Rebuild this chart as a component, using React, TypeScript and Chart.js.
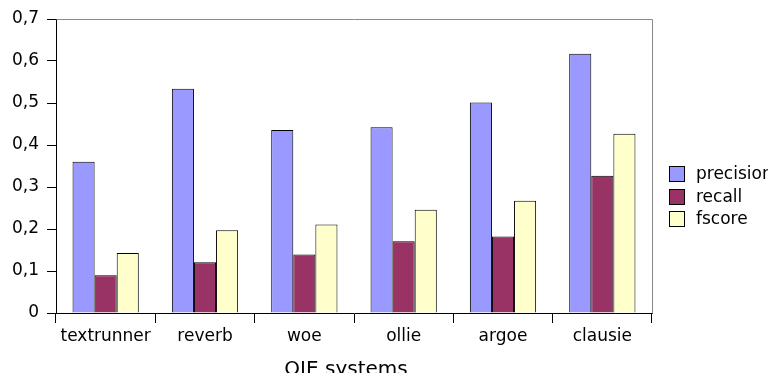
import React, { useEffect, useRef } from "react";
import { Chart, registerables } from "chart.js";

Chart.register(...registerables);

const categories = ["textrunner", "reverb", "woe", "ollie", "argoe", "clausie"];
const precision = [0.36, 0.534, 0.436, 0.442, 0.501, 0.617];
const recall = [0.09, 0.121, 0.139, 0.171, 0.182, 0.327];
const fscore = [0.143, 0.197, 0.211, 0.246, 0.267, 0.427];
const seriesNames = ["precision", "recall", "fscore"];
const seriesColors = ["#9999FF", "#993366", "#FFFFCC"];
const yTickLabels = ["0", "0,1", "0,2", "0,3", "0,4", "0,5", "0,6", "0,7"];
const xTitle = "OIE systems";

const FONT = "'DejaVu Sans', sans-serif";

const framePlugin = {
  id: "frame",
  beforeDatasetsDraw(chart: any) {
    const { ctx, chartArea } = chart;
    const t = Math.round(chartArea.top) + 0.5;
    const r = Math.round(chartArea.right) + 0.5;
    const l = Math.round(chartArea.left) + 0.5;
    const b = Math.round(chartArea.bottom) + 0.5;
    ctx.save();
    ctx.strokeStyle = "#8a8a8a";
    ctx.lineWidth = 1;
    ctx.beginPath();
    ctx.moveTo(l, t);
    ctx.lineTo(r, t);
    ctx.lineTo(r, b);
    ctx.stroke();
    ctx.restore();
  },
};

const legendTitlePlugin = {
  id: "legendTitle",
  afterDraw(chart: any) {
    const { ctx, chartArea } = chart;
    ctx.save();
    ctx.font = `17px ${FONT}`;
    ctx.textBaseline = "middle";
    ctx.textAlign = "left";
    const bx = Math.round(chartArea.right) + 17;
    const by0 = Math.round(chartArea.top) + 147;
    chart.data.datasets.forEach((ds: any, i: number) => {
      const y = Math.round(by0 + i * 22.7);
      ctx.fillStyle = ds.backgroundColor;
      ctx.fillRect(bx, y, 16, 16);
      ctx.strokeStyle = "#000";
      ctx.lineWidth = 1;
      ctx.strokeRect(bx + 0.5, y + 0.5, 15, 15);
      ctx.fillStyle = "#000";
      ctx.fillText(ds.label, bx + 27, y + 8.5);
    });
    ctx.font = `20px ${FONT}`;
    ctx.textAlign = "center";
    ctx.fillText(xTitle, (chartArea.left + chartArea.right) / 2 - 8, chartArea.bottom + 57);
    ctx.restore();
  },
};

export default function App() {
  const ref = useRef<HTMLCanvasElement>(null);
  useEffect(() => {
    if (!ref.current) return;
    const chart = new Chart(ref.current, {
      type: "bar",
      data: {
        labels: categories,
        datasets: [precision, recall, fscore].map((d, i) => ({
          label: seriesNames[i],
          data: d,
          backgroundColor: seriesColors[i],
          borderColor: "#000",
          borderWidth: 1,
          categoryPercentage: 0.667,
          barPercentage: 1,
        })),
      },
      options: {
        animation: false,
        responsive: false,
        devicePixelRatio: 1,
        layout: { padding: { top: 11, right: 124, left: 8, bottom: 0 } },
        plugins: { legend: { display: false }, tooltip: { enabled: false } },
        scales: {
          x: {
            grid: {
              offset: true,
              drawOnChartArea: false,
              tickLength: 10,
              color: "#000",
            },
            border: { color: "#000", width: 1 },
            ticks: {
              font: { family: FONT, size: 17 },
              color: "#000",
              padding: 3,
              maxRotation: 0,
            },
            afterFit: (s: any) => {
              s.height = 60;
            },
          },
          y: {
            min: 0,
            max: 0.7,
            grid: {
              drawOnChartArea: false,
              tickLength: 9,
              color: "#000",
            },
            border: { color: "#000", width: 1 },
            ticks: {
              stepSize: 0.1,
              font: { family: FONT, size: 17 },
              color: "#000",
              padding: 8,
              callback: (v: any) => yTickLabels[Math.round(Number(v) * 10)],
            },
            afterFit: (s: any) => {
              s.width = 48;
              s.paddingTop = 0;
              s.paddingBottom = 0;
            },
          },
        },
      },
      plugins: [framePlugin, legendTitlePlugin],
    });
    return () => chart.destroy();
  }, []);
  return (
    <div style={{ width: 760, height: 365 }}>
      <canvas
        ref={ref}
        width={776}
        height={365}
        style={{ display: "block", width: 776, height: 365, marginLeft: -8 }}
      />
    </div>
  );
}
